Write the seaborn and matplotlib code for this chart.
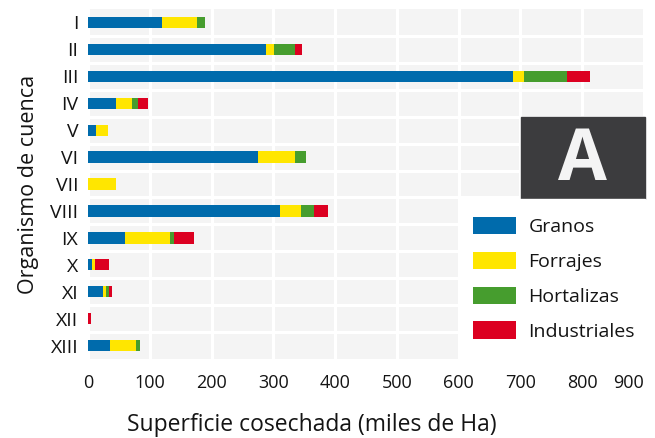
import matplotlib

matplotlib.use("Agg")
import matplotlib.pyplot as plt
import numpy as np
import pandas as pd
import seaborn as sns
from matplotlib.patches import Patch, Rectangle

organismos = ["I", "II", "III", "IV", "V", "VI", "VII", "VIII", "IX", "X", "XI", "XII", "XIII"]
granos = [120, 288, 688, 45, 13, 275, 0, 311, 60, 6, 24, 0, 36]
forrajes = [56, 13, 17, 26, 19, 60, 46, 34, 73, 5, 5, 0, 42]
hortalizas = [13, 34, 70, 10, 0, 18, 0, 21, 6, 0, 5, 0, 6]
industriales = [0, 11, 37, 16, 0, 0, 0, 22, 33, 23, 5, 5, 0]

series = ["Granos", "Forrajes", "Hortalizas", "Industriales"]
colors = ["#006bac", "#ffe600", "#469d2e", "#dc0021"]

df = pd.DataFrame(
    {"organismo": organismos, "Granos": granos, "Forrajes": forrajes,
     "Hortalizas": hortalizas, "Industriales": industriales}
)
# cumulative totals for stacking (longest drawn first, shorter on top)
stack = df[series].cumsum(axis=1)
stack["organismo"] = df["organismo"]

sns.set_style("white", {"axes.facecolor": "#f4f4f4", "grid.color": "white"})
plt.rcParams["font.family"] = ["Open Sans", "DejaVu Sans"]
txt = "#141414"

fig = plt.figure(figsize=(6.55, 4.38), dpi=100)
ax = fig.add_axes([88 / 655, 1 - 359 / 438, 556 / 655, 350 / 438])

for name, color in reversed(list(zip(series, colors))):
    sns.barplot(data=stack, x=name, y="organismo", orient="h", color=color,
                width=0.42, linewidth=0, saturation=1, ax=ax, zorder=3)

ax.set_xlim(0, 900)
ax.set_ylim(len(organismos) - 0.5, -0.5)
ax.set_xticks(np.arange(0, 1000, 100))
ax.set_yticks(np.arange(len(organismos) - 1) + 0.5, minor=True)
ax.grid(axis="x", which="major", color="white", linewidth=2.2, zorder=1)
ax.grid(axis="y", which="minor", color="white", linewidth=2.2, zorder=1)
ax.grid(axis="y", which="major", visible=False)
ax.set_axisbelow(True)
sns.despine(ax=ax, left=True, bottom=True)
ax.tick_params(axis="both", which="both", length=0, colors=txt)
ax.tick_params(axis="x", pad=11, labelsize=13)
ax.tick_params(axis="y", pad=7, labelsize=14)
# keep the last tick label inside the figure
ax.get_xticklabels()[-1].set_horizontalalignment("right")
ax.set_xlabel("Superficie cosechada (miles de Ha)", fontsize=16.5, color=txt)
ax.xaxis.set_label_coords(0.403, -0.155)
ax.set_ylabel("Organismo de cuenca", fontsize=15.5, color=txt, labelpad=8)

# badge "A"
fig.add_artist(Rectangle((521 / 655, 1 - 199 / 438), 124 / 655, 82 / 438,
                         transform=fig.transFigure, color="#3c3c3e", zorder=5))
fig.text(582 / 655, 1 - 161 / 438, "A", color="#f4f4f4", fontsize=51, fontweight="bold",
         ha="center", va="center", zorder=6)

# legend on a white block over the plot area
fig.add_artist(Rectangle((460 / 655, 1 - 362 / 438), 185 / 655, 163 / 438,
                         transform=fig.transFigure, color="white", zorder=5))
handles = [Patch(facecolor=c, edgecolor="none") for c in colors]
leg = fig.legend(handles, series, loc="upper left", bbox_to_anchor=(473 / 655, 1 - 217 / 438),
                 frameon=False, fontsize=14, handlelength=2.2, handleheight=0.98,
                 handletextpad=0.65, labelspacing=0.8, borderpad=0, borderaxespad=0,
                 labelcolor=txt)
leg.set_zorder(6)

fig.savefig("out.png", dpi=100)
